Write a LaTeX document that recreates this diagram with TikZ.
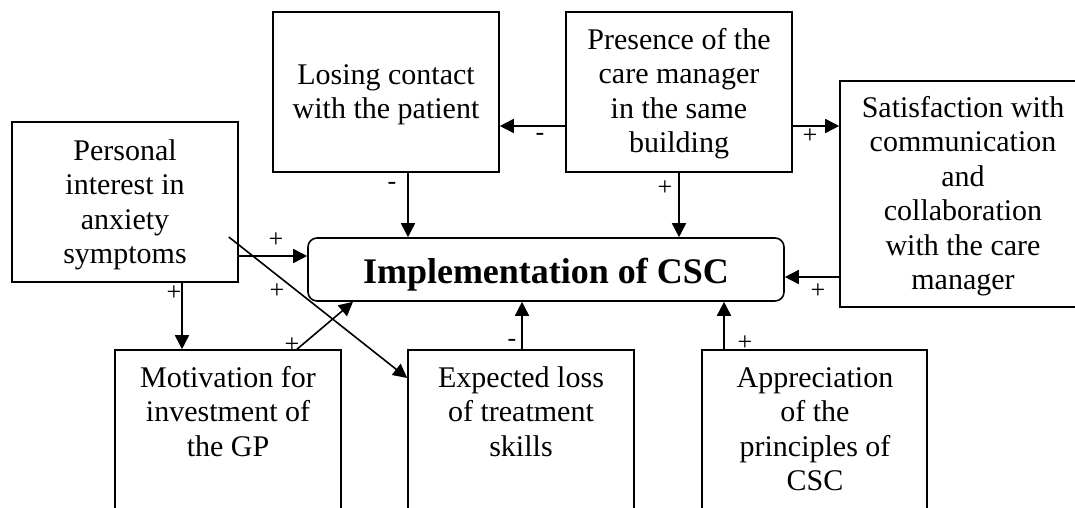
\documentclass[tikz,border=0pt]{standalone}
\usepackage{fontspec}
\setmainfont{Liberation Serif}
\usetikzlibrary{arrows.meta,calc}
\begin{document}
\begin{tikzpicture}[x=1pt,y=-1pt,
  box/.style={draw, line width=1.6pt, inner sep=0pt, align=center, font=\fontsize{30}{34.5}\selectfont},
  frame/.style={draw, line width=1.6pt, inner sep=0pt},
  txt/.style={inner sep=0pt, align=center, font=\fontsize{30}{34.5}\selectfont},
  arr/.style={line width=1.6pt, -{Triangle[length=14pt,width=14pt]}},
  sign/.style={inner sep=0pt, font=\fontsize{26}{26}\selectfont}]
\useasboundingbox (0,0) rectangle (1075,508);
\clip (0,0) rectangle (1075,508);
% boxes
\node[box, minimum width=226pt, minimum height=160pt, text depth=1pt] (personal) at (125,202) {Personal\\interest in\\anxiety\\symptoms};
\node[box, minimum width=226pt, minimum height=160pt, text depth=1pt] (losing) at (386,92) {Losing contact\\with the patient};
\node[box, minimum width=226pt, minimum height=160pt, text depth=3pt] (presence) at (679,92) {Presence of the\\care manager\\in the same\\building};
\node[box, minimum width=246pt, minimum height=226pt, text depth=2pt] (sat) at (963,194) {Satisfaction with\\communication\\and\\collaboration\\with the care\\manager};
\node[draw, line width=1.6pt, rounded corners=9pt, minimum width=476pt, minimum height=63pt, inner sep=0pt, text height=28pt, text depth=1pt, font=\bfseries\fontsize{36}{40}\selectfont] (impl) at (546,269.5) {Implementation of CSC};
\node[frame, minimum width=226pt, minimum height=180pt] (motivation) at (228,440) {};
\node[frame, minimum width=226pt, minimum height=180pt] (expected) at (521,440) {};
\node[frame, minimum width=225pt, minimum height=180pt] (appreciation) at (814.5,440) {};
\node[txt, anchor=north] (motivationtext) at (228,366) {Motivation for\\investment of\\the GP};
\node[txt, anchor=north] (expectedtext) at (521,366) {Expected loss\\of treatment\\skills};
\node[txt, anchor=north] (appreciationtext) at (815,367) {Appreciation\\of the\\principles of\\CSC};
% connectors
\draw[arr] (presence.west |- 0,126) -- (losing.east |- 0,126);
\draw[arr] (presence.east |- 0,126) -- (sat.west |- 0,126);
\draw[arr] (408,0 |- losing.south) -- (408,0 |- impl.north);
\draw[arr] (presence.south) -- (presence.south |- impl.north);
\draw[arr] (personal.east |- 0,256) -- (impl.west |- 0,256);
\coordinate (pstart) at ($(personal.east)+(-10,35)$);
\draw[arr] (pstart) -- (expected.west |- 0,378);
\draw[arr] (182,0 |- personal.south) -- (182,0 |- motivation.north);
\draw[arr] (297,0 |- motivation.north) -- (353,0 |- impl.south);
\draw[arr] (522,0 |- expected.north) -- (522,0 |- impl.south);
\draw[arr] (724,0 |- appreciation.north) -- (724,0 |- impl.south);
\draw[arr] (sat.west |- 0,277) -- (impl.east |- 0,277);
% signs
\node[sign] (s1) at (540,137) {-};
\node[sign] (s2) at (810,136) {+};
\node[sign] (s3) at (392,186) {-};
\node[sign] (s4) at (665,188) {+};
\node[sign] (s5) at (276,240) {+};
\node[sign] (s6) at (277,291) {+};
\node[sign] (s7) at (174,293) {+};
\node[sign] (s8) at (292,345) {+};
\node[sign] (s9) at (512,343) {-};
\node[sign] (s10) at (745,343) {+};
\node[sign] (s11) at (818,291) {+};
\end{tikzpicture}
\end{document}
